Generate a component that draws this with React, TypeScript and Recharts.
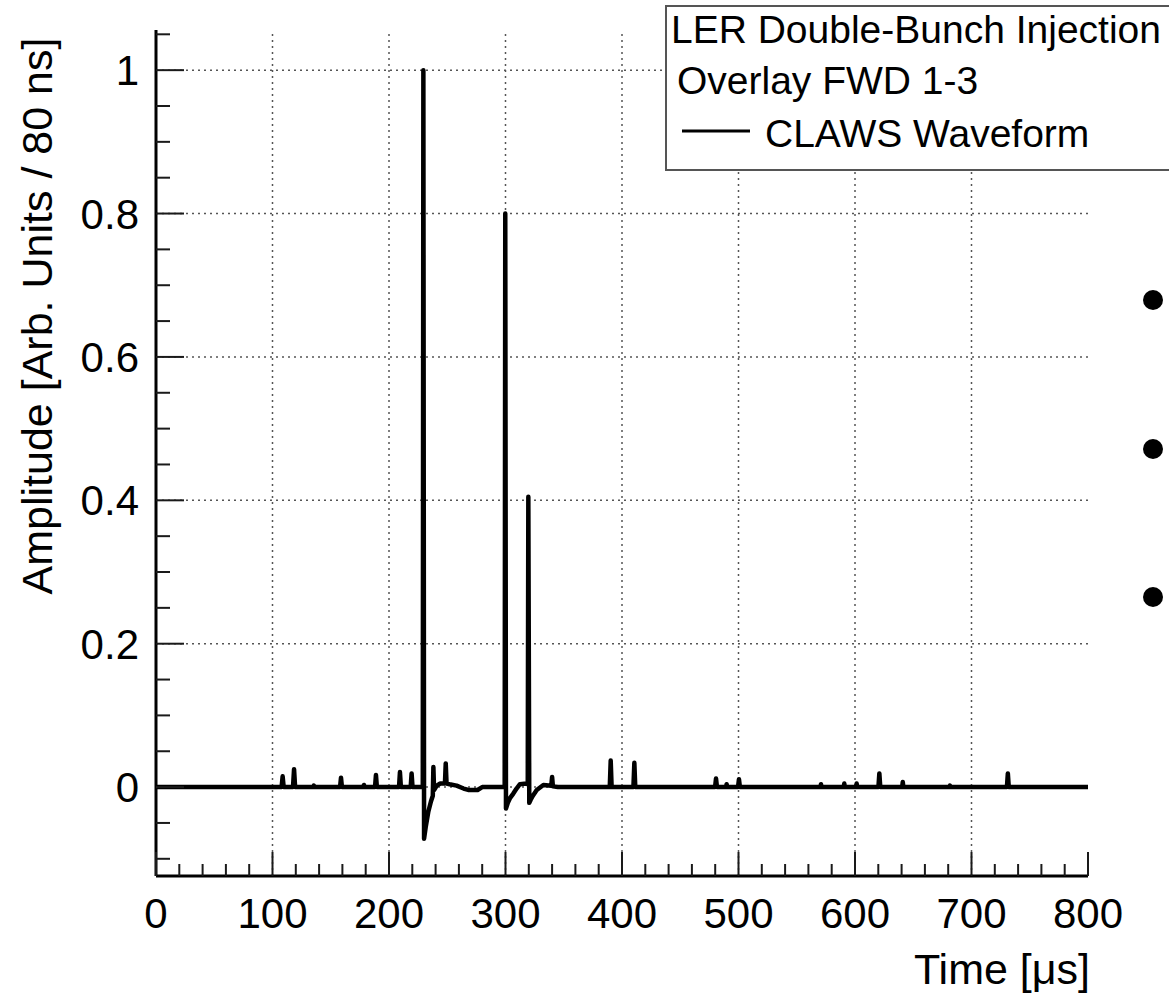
import React from 'react';
import { LineChart, Line, XAxis, YAxis, ReferenceLine } from 'recharts';

const FONT = '"Liberation Sans", Arimo, Arial, Helvetica, sans-serif';

// time axis [µs]
const xMajorTicks = [0, 100, 200, 300, 400, 500, 600, 700, 800];
const xMinorTicks = [
  20, 40, 60, 80, 120, 140, 160, 180, 220, 240, 260, 280, 320, 340, 360, 380,
  420, 440, 460, 480, 520, 540, 560, 580, 620, 640, 660, 680, 720, 740, 760, 780,
];
// amplitude axis
const yMajorTicks = [0, 0.2, 0.4, 0.6, 0.8, 1];
const yTickLabels = ['0', '0.2', '0.4', '0.6', '0.8', '1'];
const yMinorTicks = [
  -0.1, -0.05, 0.05, 0.1, 0.15, 0.25, 0.3, 0.35, 0.45, 0.5, 0.55, 0.65, 0.7,
  0.75, 0.85, 0.9, 0.95, 1.05,
];

// waveform pieces, [time µs, amplitude]
const noiseBefore: [number, number][] = [
  [0, 0], [107.8, 0], [108.7, 0.015], [109.6, 0], [117.6, 0], [118.5, 0.025], [119.4, 0],
  [135, 0], [135.5, 0.002], [136, 0], [158, 0], [158.8, 0.013], [159.6, 0],
  [178, 0], [178.5, 0.003], [179, 0], [188, 0], [188.8, 0.017], [189.6, 0],
  [208.6, 0], [209.4, 0.021], [210.2, 0], [218.6, 0], [219.4, 0.019], [220.2, 0],
];
const firstBunch: [number, number][] = [
  [229, 0], [229.5, 1.0], [230.1, -0.072], [231.5, -0.056], [233.8, -0.034], [236, -0.02],
  [237.6, -0.012], [238.1, 0.028], [238.7, -0.004], [241, 0.002], [244, 0.005], [248, 0.005],
  [248.7, 0.033], [249.4, 0.005], [252, 0.004], [258, 0.002], [264, -0.002], [268, -0.004],
  [276, -0.004], [280, 0],
];
const secondBunch: [number, number][] = [
  [299.3, 0], [299.8, 0.8], [300.4, -0.03], [302, -0.022], [304, -0.015], [306.7, -0.009],
  [309.5, -0.002], [312.4, 0.004], [318, 0.005], [319.1, 0.004], [319.6, 0.405], [320.4, -0.022],
  [321.5, -0.018], [323.5, -0.012], [326.8, -0.004], [332.5, 0.003], [339.3, 0.002],
  [340, 0.014], [340.7, 0.001], [345, 0],
];
const noiseAfter: [number, number][] = [
  [389.5, 0], [390.3, 0.037], [391.1, 0], [409.8, 0], [410.6, 0.034], [411.4, 0],
  [479.9, 0], [480.7, 0.012], [481.5, 0], [489.3, 0], [489.8, 0.004], [490.3, 0],
  [499.6, 0], [500.4, 0.011], [501.2, 0], [570.3, 0], [570.8, 0.004], [571.3, 0],
  [590.3, 0], [590.8, 0.005], [591.3, 0], [600.9, 0], [601.4, 0.005], [601.9, 0],
  [620.1, 0], [620.9, 0.019], [621.7, 0], [640.5, 0], [641, 0.007], [641.5, 0],
  [681, 0], [681.5, 0.002], [682, 0], [730.4, 0], [731.2, 0.019], [732, 0], [800, 0],
];

const waveform = [...noiseBefore, ...firstBunch, ...secondBunch, ...noiseAfter].map(([t, a]) => ({ t, a }));

const xTicks = [...xMajorTicks, ...xMinorTicks].sort((a, b) => a - b);
const yTicks = [...yMajorTicks, ...yMinorTicks].sort((a, b) => a - b);

const X_DOMAIN: [number, number] = [0, 800];
const Y_DOMAIN: [number, number] = [-0.124, 1.056];

const TICK_COLOR = '#1a1a1a';
const isMajorY = (v: number) => yMajorTicks.some((m) => Math.abs(m - v) < 1e-6);
const yLabelOf = (v: number) => yTickLabels[yMajorTicks.findIndex((m) => Math.abs(m - v) < 1e-6)];

const BottomTick = ({ x, y, payload }: any) => {
  const major = xMajorTicks.includes(payload.value);
  return (
    <g>
      <line x1={x} x2={x} y1={y} y2={y - (major ? 24 : 12)} stroke={TICK_COLOR} strokeWidth={2} />
      {major && (
        <text x={x} y={928} textAnchor="middle" fontSize={42} fontFamily={FONT} fill="#000">
          {payload.value}
        </text>
      )}
    </g>
  );
};

const TopTick = ({ x, y, payload }: any) => {
  const major = xMajorTicks.includes(payload.value);
  return <line x1={x} x2={x} y1={y} y2={y + (major ? 24 : 12)} stroke={TICK_COLOR} strokeWidth={2} />;
};

const LeftTick = ({ x, y, payload }: any) => {
  const major = isMajorY(payload.value);
  return (
    <g>
      <line x1={x} x2={x + (major ? 28 : 14)} y1={y} y2={y} stroke={TICK_COLOR} strokeWidth={2} />
      {major && (
        <text x={139} y={y + 15} textAnchor="end" fontSize={42} fontFamily={FONT} fill="#000">
          {yLabelOf(payload.value)}
        </text>
      )}
    </g>
  );
};

const RightTick = ({ x, y, payload }: any) => {
  const major = isMajorY(payload.value);
  return <line x1={x} x2={x - (major ? 28 : 14)} y1={y} y2={y} stroke={TICK_COLOR} strokeWidth={2} />;
};

const gridStyle = { stroke: '#555', strokeDasharray: '2 4', strokeWidth: 1.5 };

export default function App() {
  return (
    <div style={{ position: 'absolute', left: 0, top: 0, width: 1169, height: 996, overflow: 'hidden', background: '#fff' }}>
      <LineChart width={1169} height={996} data={waveform} margin={{ top: 30, right: 81, left: 0, bottom: 0 }}>
        <XAxis
          dataKey="t"
          type="number"
          domain={X_DOMAIN}
          allowDataOverflow
          ticks={xTicks}
          interval={0}
          height={120}
          tickSize={0}
          tickMargin={0}
          tickLine={false}
          tick={BottomTick}
          axisLine={{ stroke: '#000', strokeWidth: 3 }}
          label={{
            content: () => (
              <text x={1090} y={984} textAnchor="end" fontSize={43} fontFamily={FONT} fill="#000">
                Time [μs]
              </text>
            ),
          }}
        />
        <XAxis
          xAxisId="top"
          orientation="top"
          type="number"
          domain={X_DOMAIN}
          allowDataOverflow
          ticks={xTicks}
          interval={0}
          height={0}
          tickSize={0}
          tickMargin={0}
          tickLine={false}
          tick={TopTick}
          axisLine={{ stroke: '#000', strokeWidth: 3 }}
        />
        <YAxis
          type="number"
          domain={Y_DOMAIN}
          allowDataOverflow
          ticks={yTicks}
          interval={0}
          width={156}
          tickSize={0}
          tickMargin={0}
          tickLine={false}
          tick={LeftTick}
          axisLine={{ stroke: '#000', strokeWidth: 3 }}
          label={{
            content: () => (
              <text
                transform="translate(52, 316) rotate(-90)"
                textAnchor="middle"
                fontSize={43}
                fontFamily={FONT}
                fill="#000"
              >
                Amplitude [Arb. Units / 80 ns]
              </text>
            ),
          }}
        />
        <YAxis
          yAxisId="right"
          orientation="right"
          type="number"
          domain={Y_DOMAIN}
          allowDataOverflow
          ticks={yTicks}
          interval={0}
          width={0}
          tickSize={0}
          tickMargin={0}
          tickLine={false}
          tick={RightTick}
          axisLine={{ stroke: '#000', strokeWidth: 3 }}
        />
        {xMajorTicks.slice(1, -1).map((v) => (
          <ReferenceLine key={`gx${v}`} x={v} {...gridStyle} />
        ))}
        {yMajorTicks.map((v) => (
          <ReferenceLine key={`gy${v}`} y={v} {...gridStyle} />
        ))}
        <Line
          type="linear"
          dataKey="a"
          stroke="#000"
          strokeWidth={4.5}
          strokeLinejoin="round"
          dot={false}
          activeDot={false}
          isAnimationActive={false}
        />
      </LineChart>
      <svg width={1169} height={996} style={{ position: 'absolute', left: 0, top: 0, pointerEvents: 'none' }}>
        <rect x={666} y={6} width={560} height={164} fill="#fff" stroke="#555" strokeWidth={2} />
        <text x={671} y={43} fontSize={39} fontFamily={FONT} fill="#000">LER Double-Bunch Injection</text>
        <text x={677} y={94} fontSize={39} fontFamily={FONT} fill="#000">Overlay FWD 1-3</text>
        <line x1={682} x2={750} y1={131} y2={131} stroke="#000" strokeWidth={3} />
        <text x={765} y={147} fontSize={39} fontFamily={FONT} fill="#000">CLAWS Waveform</text>
        <circle cx={1153} cy={300} r={10} fill="#000" />
        <circle cx={1153} cy={449} r={10} fill="#000" />
        <circle cx={1153} cy={597} r={10} fill="#000" />
      </svg>
    </div>
  );
}
